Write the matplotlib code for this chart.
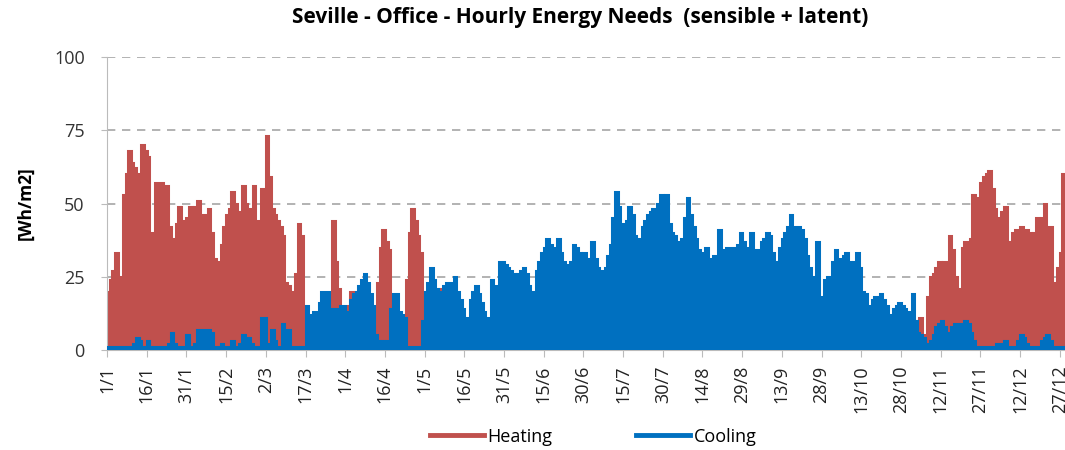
'''
Seville office - hourly energy needs, drawn from daily peak values.
'''
import matplotlib
matplotlib.use('Agg')
import matplotlib.pyplot as plt
import numpy as np

# daily peak needs [Wh/m2], day 0 = 1 January
heating = (
    [20, 24, 27, 33, 25, 18, 53, 60, 68, 64,
     62, 60, 58, 70, 68, 66, 40, 32, 57, 57,
     57, 56, 56, 42, 35, 38, 43, 49, 44, 41,
     45, 49, 48, 49, 51, 46, 45, 46, 48, 40,
     31, 30, 29, 36, 42, 46, 48, 54, 50, 45,
     47, 56, 50, 39, 48, 56, 44, 40, 55, 50,
     73, 59, 48, 46, 44, 42, 39, 23, 22, 20,
     9, 26, 43, 39, 12, 0, 0, 0, 0, 0,
     0, 0, 0, 0, 0, 44, 30, 21, 14, 0,
     0, 15, 20, 0, 0, 0, 0, 0, 0, 0,
     0, 0, 23, 35, 41, 37, 34, 16, 5, 3,
     0, 0, 10, 24, 40, 48, 44, 39, 33, 8,
     0, 0, 0, 0, 0, 21, 0, 0, 0, 0]
    + [0] * 60
    + [0, 0, 1.5, 1.5, 0, 0, 1.5, 0, 0, 0,
       1.5, 1.5, 1.5, 1.5, 1.5, 1.5, 1.5, 0, 0, 1.5,
       0, 0, 1.5, 0, 0, 0, 1.5, 0, 0, 0]
    + [0] * 80
    + [0, 0, 0, 0, 0, 8, 10, 11, 5, 4,
       18, 25, 26, 28, 30, 27, 30, 24, 39, 34,
       25, 21, 20, 35, 37, 37, 38, 53, 52, 45,
       57, 59, 60, 61, 55, 48, 42, 45, 47, 49,
       37, 35, 40, 41, 37, 42, 38, 41, 40, 35,
       40, 45, 43, 45, 50, 42, 42, 18, 23, 28,
       33, 60]
)
cooling = [
    1, 1, 1, 1, 1, 1, 1, 1, 1, 1,
    2, 4, 3, 1, 1, 3, 1, 1, 1, 1,
    1, 1, 1, 2, 6, 2, 1, 1, 1, 1,
    5, 1, 1, 2, 7, 7, 7, 7, 7, 6,
    1, 1, 1, 2, 1, 1, 1, 3, 1, 1,
    2, 5, 3, 4, 2, 1, 1, 1, 11, 11,
    2, 2, 7, 3, 1, 1, 9, 7, 7, 1,
    1, 1, 1, 1, 1, 15, 11, 12, 13, 13,
    16, 20, 20, 20, 8, 14, 14, 14, 15, 15,
    9, 13, 17, 19, 20, 22, 24, 26, 23, 19,
    15, 5, 2, 3, 3, 3, 1, 14, 19, 19,
    13, 12, 11, 1, 1, 1, 1, 1, 1, 10,
    20, 23, 28, 24, 21, 20, 16, 22, 23, 23,
    22, 25, 20, 17, 14, 11, 3, 17, 20, 22,
    19, 16, 13, 11, 11, 24, 22, 18, 30, 30,
    29, 28, 27, 26, 24, 26, 27, 28, 26, 22,
    20, 20, 27, 30, 33, 35, 38, 36, 35, 35,
    38, 33, 30, 29, 28, 30, 36, 35, 33, 32,
    33, 30, 31, 37, 31, 28, 26, 27, 28, 32,
    36, 45, 54, 49, 43, 40, 44, 49, 46, 39,
    35, 38, 42, 44, 46, 47, 48, 48, 50, 53,
    43, 53, 43, 40, 39, 36, 37, 38, 45, 52,
    46, 42, 38, 34, 33, 32, 35, 31, 30, 32,
    31, 41, 34, 34, 35, 35, 35, 34, 36, 40,
    37, 33, 35, 40, 34, 33, 34, 37, 38, 40,
    39, 33, 30, 27, 35, 38, 40, 42, 46, 42,
    41, 42, 41, 38, 32, 28, 25, 25, 37, 12,
    18, 24, 25, 24, 30, 34, 31, 31, 32, 33,
    30, 28, 30, 33, 28, 20, 19, 15, 15, 17,
    18, 17, 19, 17, 15, 12, 7, 14, 15, 16,
    15, 14, 13, 12, 19, 10, 6, 5, 4, 2,
    2, 3, 5, 8, 9, 10, 8, 5, 6, 8,
    9, 9, 9, 8, 10, 9, 6, 3, 1, 1,
    1, 1, 1, 1, 1, 1, 2, 2, 2, 3,
    1, 1, 1, 1, 3, 5, 4, 2, 1, 1,
    1, 1, 1, 3, 4, 5, 3, 1, 1, 1,
    1, 1,
]
tick_days = list(range(0, 361, 15))
tick_labels = ['1/1', '16/1', '31/1', '15/2', '2/3', '17/3', '1/4', '16/4',
               '1/5', '16/5', '31/5', '15/6', '30/6', '15/7', '30/7', '14/8',
               '29/8', '13/9', '28/9', '13/10', '28/10', '12/11', '27/11',
               '12/12', '27/12']

RED = '#C0504D'
BLUE = '#0070C0'

plt.rcParams['font.family'] = ['Open Sans', 'DejaVu Sans']

fig = plt.figure(figsize=(10.65, 4.5), dpi=100)
ax = fig.add_axes([0.1005, 0.222, 0.8995, 0.651])

# each series: filled steps plus a thick outline to get the dense look
edges = np.arange(len(heating) + 1)
ax.stairs(heating, edges, fill=True, color=RED, linewidth=0, zorder=2)
ax.stairs(heating, edges, color=RED, linewidth=2.2, zorder=2)
edges = np.arange(len(cooling) + 1)
ax.stairs(cooling, edges, fill=True, color=BLUE, linewidth=0, zorder=3)
ax.stairs(cooling, edges, color=BLUE, linewidth=2.2, zorder=3)

ax.set_xlim(0, 362)
ax.set_ylim(0, 100)
ax.set_yticks([0, 25, 50, 75, 100])
ax.tick_params(axis='y', labelsize=13, colors='#333333', length=4,
               color='#BBBBBB', pad=12)
ax.set_xticks(tick_days)
ax.set_xticklabels(tick_labels, rotation=90, fontsize=13, color='#222222')
ax.tick_params(axis='x', length=5, color='#BBBBBB', pad=6)

for y in [25, 50, 75, 100]:
    ax.axhline(y, color='#A6A6A6', linestyle=(0, (5, 4)), linewidth=1.2, zorder=1)

for side in ['top', 'right']:
    ax.spines[side].set_visible(False)
ax.spines['left'].set_color('#BBBBBB')
ax.spines['bottom'].set_color('#BBBBBB')

ax.set_ylabel('[Wh/m2]', fontsize=12.5, fontweight='bold', labelpad=14)
fig.suptitle('Seville - Office - Hourly Energy Needs  (sensible + latent)',
             x=0.545, y=0.985, fontsize=15, fontweight='bold')

handles = [plt.Line2D([], [], color=RED, linewidth=3.5),
           plt.Line2D([], [], color=BLUE, linewidth=3.5)]
fig.legend(handles, ['Heating', 'Cooling'], loc='center', ncol=2,
           bbox_to_anchor=(0.557, 0.03), frameon=False, fontsize=13,
           handlelength=3.0, handletextpad=0.2, columnspacing=4.6)

fig.savefig('out.png', dpi=100)
